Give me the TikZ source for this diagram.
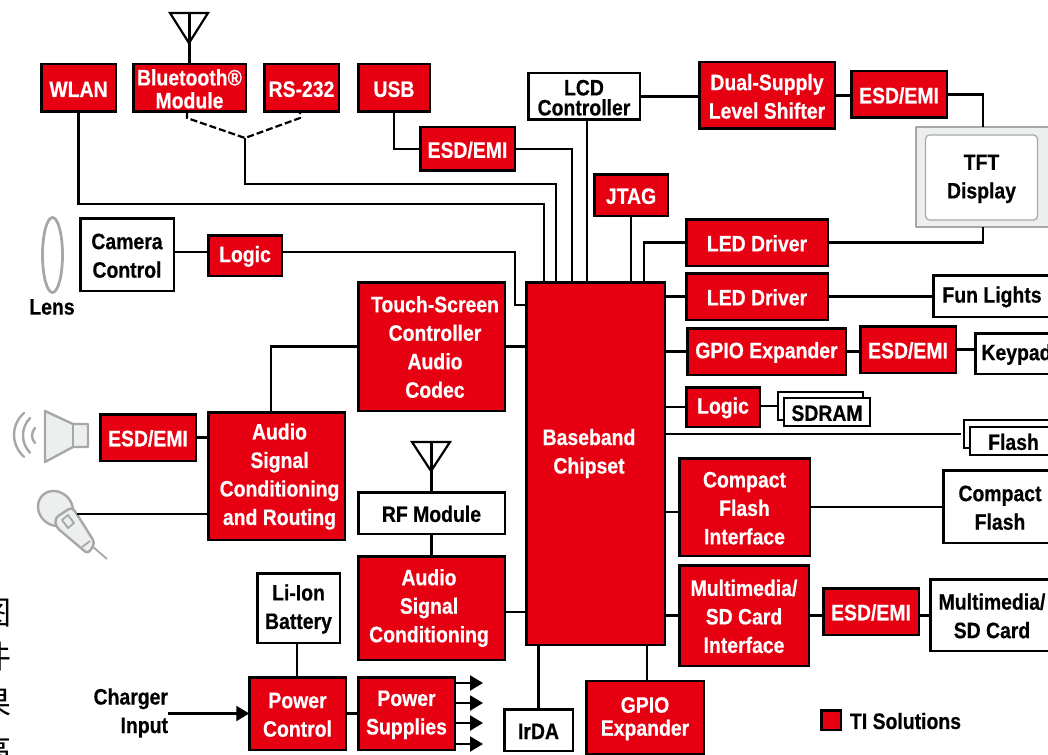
\documentclass[tikz,border=0pt]{standalone}
\usepackage{fontspec}
\setmainfont[FakeStretch=0.87,FakeBold=0.5]{Liberation Sans}
\newfontfamily\cjkfont{Noto Sans CJK SC}
\usetikzlibrary{arrows.meta}
\definecolor{tired}{RGB}{230,0,18}
\definecolor{icongray}{RGB}{166,168,168}
\definecolor{iconfill}{RGB}{237,239,238}
\newcommand{\boxfont}{\fontsize{22.3}{28.5}\selectfont\bfseries}
\newcommand{\tightfont}{\fontsize{22.3}{23}\selectfont\bfseries}
\newcommand{\lcdfont}{\fontsize{22.3}{20}\selectfont\bfseries}
\newcommand{\dn}{\rule{0pt}{18pt}}
\tikzset{
  boxsize/.style 2 args={minimum width=#1,minimum height=#2},
  redbox/.style={draw=black,fill=tired,text=white,line width=2.5pt,inner sep=0pt,outer sep=0pt,align=center,font=\boxfont},
  whitebox/.style={draw=black,fill=white,text=black,line width=2.5pt,inner sep=0pt,outer sep=0pt,align=center,font=\boxfont},
  plainlabel/.style={inner sep=0pt,outer sep=0pt,align=center,font=\boxfont},
  sidelabel/.style={inner sep=0pt,font=\fontsize{32}{32}\selectfont\cjkfont},
  wire/.style={draw=black,line width=2.2pt},
  feed/.style={wire,-{Triangle[length=13pt,width=15pt]}},
  icon/.style={draw=icongray,fill=iconfill,line width=2.4pt,line join=round},
  antenna/.style={draw=black,line width=2.2pt,line join=miter}
}
\begin{document}
\begin{tikzpicture}[x=1pt,y=-1pt]
  \useasboundingbox (0,0) rectangle (1048,754);
  \node[redbox,boxsize={74.5}{47.5}] (wlan) at (78.5,88) {\dn WLAN};
  \node[redbox,boxsize={112.5}{47.5},font=\tightfont] (bluetooth) at (189.5,88) {\dn Bluetooth®\\Module};
  \node[redbox,boxsize={74.5}{47.5}] (rs232) at (301.5,88) {\dn RS-232};
  \node[redbox,boxsize={71.5}{47.5}] (usb) at (394,88) {\dn USB};
  \node[redbox,boxsize={94.5}{43.5}] (esdusb) at (467.5,149) {\dn ESD/EMI};
  \node[whitebox,boxsize={111.5}{46.5},font=\lcdfont] (lcd) at (584,96.5) {\dn LCD\\Controller};
  \node[redbox,boxsize={135.5}{66.5}] (dual) at (767,95.5) {\dn Dual-Supply\\Level Shifter};
  \node[redbox,boxsize={95.5}{46.5}] (esdtft) at (899,94.5) {\dn ESD/EMI};
  \node[icon,boxsize={134}{100},inner sep=0pt,outer sep=0pt] (tft) at (983,177) {};
  \draw[icongray,line width=2.5pt] (tft.south west) -- (tft.south east);
  \node[draw=icongray,fill=white,line width=1.2pt,rounded corners=4pt,boxsize={112}{85},inner sep=0pt,align=center,font=\boxfont] (tftscreen) at (981.5,177.5) {\dn TFT\\Display};
  \node[redbox,boxsize={73.5}{41.5}] (jtag) at (631,195) {\dn JTAG};
  \node[redbox,boxsize={141.5}{46.5}] (ledtft) at (757,242.5) {\dn LED Driver};
  \node[redbox,boxsize={141.5}{46.5}] (ledfun) at (757,296.5) {\dn LED Driver};
  \node[whitebox,boxsize={117.5}{41.5}] (fun) at (992,296) {\dn Fun Lights};
  \node[redbox,boxsize={158.5}{46.5}] (gpiokey) at (766.5,351.5) {\dn GPIO Expander};
  \node[redbox,boxsize={95.5}{46.5}] (esdkey) at (908,349.5) {\dn ESD/EMI};
  \node[whitebox,boxsize={82.5}{40.5}] (keypad) at (1016.5,353.5) {\dn Keypad};
  \node[redbox,boxsize={73.5}{39.5}] (logicmem) at (723,407) {\dn Logic};
  \node[whitebox,boxsize={84.5}{27.5},line width=2pt] (sdramback) at (820.5,406) {};
  \node[whitebox,boxsize={85.5}{27.5},line width=2pt] (sdram) at (827,412) {\dn SDRAM};
  \node[whitebox,boxsize={92.5}{27.5},line width=2pt] (flashback) at (1010.5,434) {};
  \node[whitebox,boxsize={86.5}{27.5},line width=2pt] (flash) at (1013.5,441) {\dn Flash};
  \node[redbox,boxsize={130.5}{97.5}] (cfface) at (744.5,507) {\dn Compact\\Flash\\Interface};
  \node[whitebox,boxsize={113.5}{72.5}] (cf) at (1000,506.5) {\dn Compact\\Flash};
  \node[redbox,boxsize={129.5}{100.5}] (mmface) at (744,615.5) {\dn Multimedia/\\SD Card\\Interface};
  \node[redbox,boxsize={95.5}{46.5}] (esdmm) at (871,611.5) {\dn ESD/EMI};
  \node[whitebox,boxsize={123.5}{71.5}] (mm) at (992,615) {\dn Multimedia/\\SD Card};
  \node[redbox,boxsize={138.5}{362.5}] (baseband) at (595.5,463.5) {};
  \node[plainlabel,text=white] (basebandtext) at (589,453.5) {Baseband\\Chipset};
  \node[redbox,boxsize={146.5}{128.5}] (touch) at (431.5,346.5) {};
  \node[plainlabel,text=white] (touchtext) at (435,347) {Touch-Screen\\Controller\\Audio\\Codec};
  \node[whitebox,boxsize={146.5}{41.5}] (rf) at (431.5,513) {\dn RF Module};
  \node[redbox,boxsize={146.5}{103.5}] (conditioning) at (431.5,608) {};
  \node[plainlabel,text=white] (conditioningtext) at (429,608) {Audio\\Signal\\Conditioning};
  \node[redbox,boxsize={136.5}{127.5}] (routing) at (276.5,476) {};
  \node[plainlabel,text=white] (routingtext) at (279.5,476.5) {Audio\\Signal\\Conditioning\\and Routing};
  \node[redbox,boxsize={95.5}{46.5}] (esdspk) at (148,437.5) {\dn ESD/EMI};
  \node[redbox,boxsize={73.5}{40.5}] (logiccam) at (245,255.5) {\dn Logic};
  \node[whitebox,boxsize={93.5}{72.5}] (camera) at (127,254.5) {\dn Camera\\Control};
  \node[plainlabel] (lens) at (52,307) {Lens};
  \node[whitebox,boxsize={82.5}{69.5}] (battery) at (298.5,608) {\dn Li-Ion\\Battery};
  \node[redbox,boxsize={96.5}{72.5}] (power) at (297.5,713.5) {\dn Power\\Control};
  \node[redbox,boxsize={96.5}{72.5}] (supplies) at (406.5,713.5) {\dn Power\\Supplies};
  \node[whitebox,boxsize={68.5}{41.5}] (irda) at (538.5,730) {\dn IrDA};
  \node[redbox,boxsize={117.5}{73.5},font=\tightfont] (gpiolow) at (645,717.5) {\dn GPIO\\Expander};
  \node[plainlabel,anchor=east,align=right] (charger) at (168,713) {Charger\\Input};
  \node[redbox,boxsize={19.5}{19.5}] (legend) at (831,720) {};
  \node[plainlabel,anchor=west] (legendtext) at (850,721) {TI Solutions};

  \draw[wire] (wlan.south) |- (544,204) -- (baseband.north -| 544,0);
  \coordinate (btjoin) at (245,138);
  \draw[wire,dash pattern=on 7pt off 3pt] (bluetooth.south -| 187,0) -- (187,118) -- (btjoin) -- (300,118) -- (rs232.south -| 300,0);
  \draw[wire] (btjoin) |- (556,184) -- (baseband.north -| 556,0);
  \draw[wire] (usb.south) |- (esdusb.west);
  \draw[wire] (esdusb.east) -| (baseband.north -| 572,0);
  \draw[wire] (lcd.south -| 587,0) -- (baseband.north -| 587,0);
  \draw[wire] (lcd.east) -- (dual.west |- lcd.east);
  \draw[wire] (dual.east) -- (esdtft.west |- dual.east);
  \draw[wire] (esdtft.east) -| (tft.north);
  \draw[wire] (jtag.south) -- (baseband.north -| jtag.south);
  \draw[wire] (ledtft.west) -| (baseband.north -| 644,0);
  \draw[wire] (ledtft.east) -| (tft.south);
  \draw[wire] (baseband.east |- ledfun.west) -- (ledfun.west);
  \draw[wire] (ledfun.east) -- (fun.west |- ledfun.east);
  \draw[wire] (baseband.east |- gpiokey.west) -- (gpiokey.west);
  \draw[wire] (gpiokey.east) -- (esdkey.west |- gpiokey.east);
  \draw[wire] (esdkey.east) -- (keypad.west |- esdkey.east);
  \draw[wire] (baseband.east |- logicmem.west) -- (logicmem.west);
  \draw[wire] (logicmem.east |- sdramback.west) -- (sdramback.west);
  \draw[wire,shorten >=3pt] (baseband.east |- flashback.west) -- (flashback.west);
  \draw[wire] (baseband.east |- 0,512) -- (cfface.west |- 0,512);
  \draw[wire] (cfface.east) -- (cf.west |- cfface.east);
  \draw[wire] (baseband.east |- mmface.west) -- (mmface.west);
  \draw[wire] (mmface.east) -- (esdmm.west |- mmface.east);
  \draw[wire] (esdmm.east |- mmface.east) -- (mm.west |- mmface.east);
  \draw[wire] (touch.east) -- (baseband.west |- touch.east);
  \draw[wire] (touch.west) -| (routing.north -| 271,0);
  \draw[wire] (rf.south) -- (conditioning.north);
  \draw[wire] (conditioning.east |- 0,612) -- (baseband.west |- 0,612);
  \draw[wire] (camera.east |- 0,252) -- (logiccam.west |- 0,252);
  \draw[wire] (logiccam.east |- 0,252) -| (515,305) -- (baseband.west |- 0,305);
  \draw[wire] (esdspk.east) -- (routing.west |- esdspk.east);
  \draw[wire] (battery.south -| 297,0) -- (power.north -| 297,0);
  \draw[wire] (power.east) -- (supplies.west);
  \draw[wire] (baseband.south -| irda.north) -- (irda.north);
  \draw[wire] (baseband.south -| 647,0) -- (gpiolow.north -| 647,0);
  \draw[feed] (charger.east |- power.west) -- (power.west);
  \foreach \y in {683,703,723,744} {
    \coordinate (out\y) at (483,\y);
    \draw[feed] (supplies.east |- out\y) -- (out\y);
  }

  \draw[antenna] (170,13) -- (208,13) -- (189,43) -- cycle;
  \draw[wire] (bluetooth.north) -- (189.5,13);
  \draw[antenna] (412,442) -- (450,442) -- (431,471) -- cycle;
  \draw[wire] (rf.north) -- (431.5,442);

  \draw[icon,fill=none,line width=2.8pt] (52.5,255) ellipse[x radius=10pt,y radius=37.5pt];
  \draw[icon] (45,411) -- (73,424) -- (88,424) -- (88,447) -- (73,447) -- (45,462) -- cycle;
  \draw[icon,fill=none] (73,424) -- (73,447);
  \draw[icon,fill=none,line cap=round] (24,413) arc[start angle=131,end angle=229,radius=29pt];
  \draw[icon,fill=none,line cap=round] (30,418) arc[start angle=136,end angle=224,radius=25pt];
  \draw[icon,fill=none,line cap=round] (35,428) arc[start angle=137,end angle=223,radius=11pt];

  \draw[icon,fill=none,line width=1.8pt] (92,546) -- (107,559);
  \draw[icon,rotate around={-45:(55.5,508.5)}] (55.5,508.5) ellipse[x radius=18.5pt,y radius=16.5pt];
  \draw[icon,rounded corners=4pt] (55,518) -- (72,507) -- (80,519) -- (95,543) -- (88,554) -- (56,527) -- cycle;
  \draw[icon,fill=none,line width=1.8pt] (62,520) -- (68,515) -- (74,523) -- (68,528) -- cycle;
  \draw[icon,fill=none,line width=1.8pt] (82,547) -- (90,541);
  \draw[wire] (77,514) -- (routing.west |- 0,514);

  \node[sidelabel] (side1) at (-4,613) {图};
  \node[sidelabel] (side2) at (-4,656) {件};
  \node[sidelabel] (side3) at (-4,703) {果};
  \node[sidelabel] (side4) at (-4,750) {高};
\end{tikzpicture}
\end{document}
